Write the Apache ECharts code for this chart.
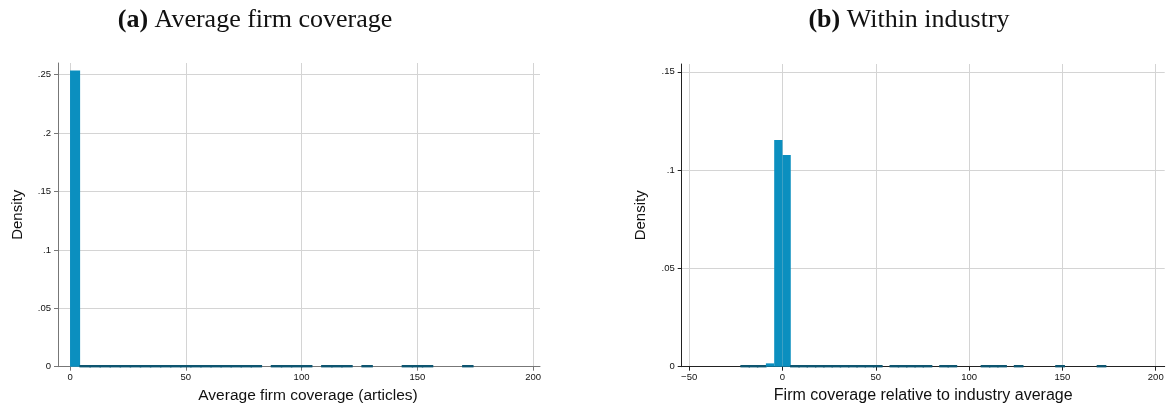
<!DOCTYPE html>
<html>
<head>
<meta charset="utf-8">
<script src="https://cdn.jsdelivr.net/npm/echarts@6/dist/echarts.min.js"></script>
<style>
html,body{margin:0;padding:0;background:#fff;}
#chart{width:1171px;height:412px;}
</style>
</head>
<body>
<div id="chart"></div>
<script>
// ---------- Data ----------
const titleTagA = "(a)";
const titleA = "Average firm coverage";
const titleTagB = "(b)";
const titleB = "Within industry";
const xTitleA = "Average firm coverage (articles)";
const xTitleB = "Firm coverage relative to industry average";
const yTitle = "Density";

// Panel (a): histogram bins
const binStartA = 0;
const binWidthA = 4.35;
const densityA = [
  0.2535, 0.0015, 0.0005, 0.0004, 0.0003, 0.0003, 0.0003, 0.0002, 0.0002, 0.0002,
  0.0002, 0.0002, 0.0002, 0.0001, 0.0001, 0.0001, 0.0001, 0.0001, 0.0001, 0,
  0.0001, 0.0001, 0.0001, 0.0001, 0, 0.0001, 0.0001, 0.0001, 0, 0.0001,
  0, 0, 0, 0.0001, 0.0001, 0.0001, 0, 0, 0, 0.0001,
  0, 0, 0, 0, 0, 0
];

// Panel (b): histogram bins
const binStartB = -22.2;
const binWidthB = 4.44;
const densityB = [
  0.0003, 0.0004, 0.0012, 0.0017, 0.1153, 0.1077, 0.0015, 0.0005, 0.0003, 0.0003,
  0.0002, 0.0002, 0.0002, 0.0002, 0.0001, 0.0001, 0.0001, 0, 0.0001, 0.0001,
  0.0001, 0.0001, 0.0001, 0, 0.0001, 0.0001, 0, 0, 0, 0.0001,
  0.0001, 0.0001, 0, 0.0001, 0, 0, 0, 0, 0.0001, 0,
  0, 0, 0, 0.0001, 0, 0, 0, 0, 0, 0
];

// Tick labels
const xTicksA = [0, 50, 100, 150, 200];
const yTicksA = [0, 0.05, 0.1, 0.15, 0.2, 0.25];
const xTicksB = [-50, 0, 50, 100, 150, 200];
const yTicksB = [0, 0.05, 0.1, 0.15];

// ---------- Build ----------
function toBins(start, width, dens) {
  return dens.map((d, i) => [start + i * width, start + (i + 1) * width, d]);
}
const fmt = v => {
  if (v === 0) return '0';
  let s = String(+v.toFixed(4));
  if (s.startsWith('0.')) s = s.slice(1);
  if (s.startsWith('-0.')) s = '-' + s.slice(2);
  return s.replace('-', '\u2212');
};
const BAR = '#0b8fbf';
const BAR_DARK = '#0d5570';

function renderHist(params, api) {
  const x0 = api.value(0), x1 = api.value(1), y = api.value(2);
  if (!(y > 0)) return null;
  const p0 = api.coord([x0, 0]);
  const p1 = api.coord([x1, y]);
  const h = p0[1] - p1[1];
  const thin = h < 3;
  return {
    type: 'rect',
    shape: { x: p0[0], y: thin ? p0[1] - 1 : p1[1], width: p1[0] - p0[0], height: thin ? 1 : h },
    style: { fill: thin ? BAR_DARK : BAR, stroke: thin ? BAR_DARK : null, lineWidth: thin ? 1.4 : 0 }
  };
}

const font = 'Liberation Sans, Arial, sans-serif';
const serif = 'Liberation Serif, DejaVu Serif, serif';

function xAxis(idx, min, max, ticks, name, lineColor, fs, shift) {
  return {
    type: 'value', gridIndex: idx, min: min, max: max,
    name: name, nameLocation: 'middle', nameGap: 8,
    nameTextStyle: { fontFamily: font, fontSize: fs, color: '#111', padding: [0, 0, 0, shift] },
    axisLine: { show: true, onZero: false, lineStyle: { color: lineColor, width: 1 } },
    axisTick: { show: true, length: 4, customValues: ticks, lineStyle: { color: lineColor } },
    axisLabel: { customValues: ticks, formatter: fmt, fontFamily: font, fontSize: 9.5, color: '#111', margin: 6 },
    splitLine: { show: true, lineStyle: { color: '#d4d4d4', width: 1 } }
  };
}
function yAxis(idx, max, ticks, lineColor) {
  return {
    type: 'value', gridIndex: idx, min: 0, max: max,
    name: yTitle, nameLocation: 'middle', nameGap: 33,
    nameTextStyle: { fontFamily: font, fontSize: 15, color: '#111' },
    axisLine: { show: true, onZero: false, lineStyle: { color: lineColor, width: 1 } },
    axisTick: { show: true, length: 4, customValues: ticks, lineStyle: { color: lineColor } },
    axisLabel: { customValues: ticks, formatter: fmt, fontFamily: font, fontSize: 9.5, color: '#111', margin: 7 },
    splitLine: { show: true, lineStyle: { color: '#d4d4d4', width: 1 } }
  };
}
function titleText(tag, txt) {
  return '{b|' + tag + '} {n|' + txt + '}';
}
const titleRich = {
  b: { fontFamily: serif, fontSize: 26, fontWeight: 'bold', color: '#111' },
  n: { fontFamily: serif, fontSize: 26, fontWeight: 'normal', color: '#111' }
};

const chart = echarts.init(document.getElementById('chart'), null, { renderer: 'canvas' });
chart.setOption({
  animation: false,
  backgroundColor: '#fff',
  title: [
    { text: titleText(titleTagA, titleA), left: 250, top: 2, textAlign: 'center',
      textStyle: { fontFamily: serif, fontSize: 26, color: '#111', rich: titleRich } },
    { text: titleText(titleTagB, titleB), left: 904, top: 2, textAlign: 'center',
      textStyle: { fontFamily: serif, fontSize: 26, color: '#111', rich: titleRich } }
  ],
  grid: [
    { left: 58, top: 63, width: 482, height: 303.7 },
    { left: 681.7, top: 64, width: 483, height: 302.7 }
  ],
  xAxis: [
    xAxis(0, -5.2, 203, xTicksA, xTitleA, '#777', 15.5, 18),
    xAxis(1, -54, 204.8, xTicksB, xTitleB, '#222', 16, 0)
  ],
  yAxis: [
    yAxis(0, 0.26, yTicksA, '#777'),
    yAxis(1, 0.154, yTicksB, '#222')
  ],
  series: [
    { type: 'custom', xAxisIndex: 0, yAxisIndex: 0, renderItem: renderHist,
      encode: { x: [0, 1], y: 2 }, data: toBins(binStartA, binWidthA, densityA) },
    { type: 'custom', xAxisIndex: 1, yAxisIndex: 1, renderItem: renderHist,
      encode: { x: [0, 1], y: 2 }, data: toBins(binStartB, binWidthB, densityB) }
  ]
});
</script>
</body>
</html>
